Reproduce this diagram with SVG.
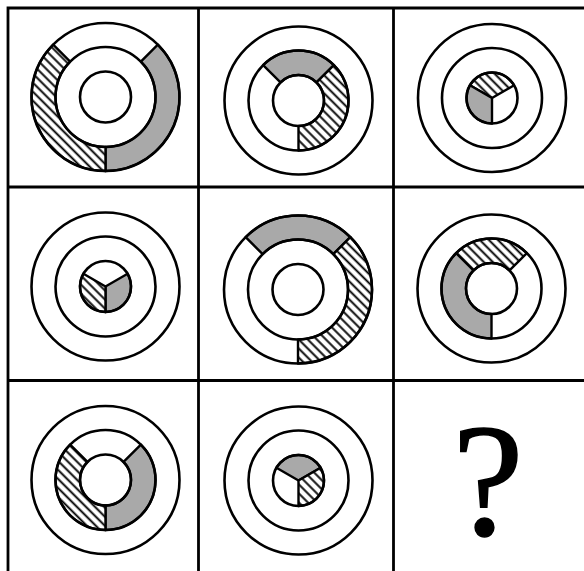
<svg xmlns="http://www.w3.org/2000/svg" width="584" height="571" viewBox="0 0 584 571">
<style>
.c{fill:none;stroke:#000;stroke-width:2.6}
.g{fill:#a9a9a9;stroke:#000;stroke-width:2.4;stroke-linejoin:round}
.h{fill:url(#hatch);stroke:#000;stroke-width:2.4;stroke-linejoin:round}
.grid{stroke:#000;stroke-width:2.8;fill:none}
</style>
<defs>
<pattern id="hatch" patternUnits="userSpaceOnUse" width="10" height="6.4" patternTransform="rotate(45)">
<rect width="10" height="6.4" fill="#fff"/>
<line x1="0" y1="3.2" x2="10" y2="3.2" stroke="#000" stroke-width="1.9"/>
</pattern>
</defs>
<rect width="584" height="571" fill="#fff"/>
<g id="grid">
<path class="grid" d="M8,571 V8 H584 M198.5,8 V571 M393.5,8 V571 M8,187 H584 M8,380.5 H584"/>
</g>
<g id="cell1">
<path class="g" d="M157.83,44.67 A74,74 0 0 1 105.5,171 L105.5,147 A50,50 0 0 0 140.86,61.64 Z"/>
<path class="h" d="M105.5,171 A74,74 0 0 1 53.17,44.67 L70.14,61.64 A50,50 0 0 0 105.5,147 Z"/>
<circle class="c" cx="105.5" cy="97" r="74"/><circle class="c" cx="105.5" cy="97" r="50"/><circle class="c" cx="105.5" cy="97" r="25.5"/>
</g>
<g id="cell2">
<path class="g" d="M263.14,65.14 A50,50 0 0 1 333.86,65.14 L316.53,82.47 A25.5,25.5 0 0 0 280.47,82.47 Z"/>
<path class="h" d="M333.86,65.14 A50,50 0 0 1 298.5,150.5 L298.5,126 A25.5,25.5 0 0 0 316.53,82.47 Z"/>
<circle class="c" cx="298.5" cy="100.5" r="74"/><circle class="c" cx="298.5" cy="100.5" r="50"/><circle class="c" cx="298.5" cy="100.5" r="25.5"/>
</g>
<g id="cell3">
<path class="h" d="M492,98 L469.92,85.25 A25.5,25.5 0 0 1 514.08,85.25 Z"/>
<path class="g" d="M492,98 L492,123.5 A25.5,25.5 0 0 1 469.92,85.25 Z"/>
<circle class="c" cx="492" cy="98" r="74"/><circle class="c" cx="492" cy="98" r="50"/><circle class="c" cx="492" cy="98" r="25.5"/>
</g>
<g id="cell4">
<path class="g" d="M105.5,286.5 L127.58,273.75 A25.5,25.5 0 0 1 105.5,312 Z"/>
<path class="h" d="M105.5,286.5 L105.5,312 A25.5,25.5 0 0 1 83.42,273.75 Z"/>
<circle class="c" cx="105.5" cy="286.5" r="74"/><circle class="c" cx="105.5" cy="286.5" r="50"/><circle class="c" cx="105.5" cy="286.5" r="25.5"/>
</g>
<g id="cell5">
<path class="g" d="M245.67,237.17 A74,74 0 0 1 350.33,237.17 L333.36,254.14 A50,50 0 0 0 262.64,254.14 Z"/>
<path class="h" d="M350.33,237.17 A74,74 0 0 1 298,363.5 L298,339.5 A50,50 0 0 0 333.36,254.14 Z"/>
<circle class="c" cx="298" cy="289.5" r="74"/><circle class="c" cx="298" cy="289.5" r="50"/><circle class="c" cx="298" cy="289.5" r="25.5"/>
</g>
<g id="cell6">
<path class="h" d="M456.14,253.14 A50,50 0 0 1 526.86,253.14 L509.53,270.47 A25.5,25.5 0 0 0 473.47,270.47 Z"/>
<path class="g" d="M491.5,338.5 A50,50 0 0 1 456.14,253.14 L473.47,270.47 A25.5,25.5 0 0 0 491.5,314 Z"/>
<circle class="c" cx="491.5" cy="288.5" r="74"/><circle class="c" cx="491.5" cy="288.5" r="50"/><circle class="c" cx="491.5" cy="288.5" r="25.5"/>
</g>
<g id="cell7">
<path class="g" d="M140.86,444.64 A50,50 0 0 1 105.5,530 L105.5,505.5 A25.5,25.5 0 0 0 123.53,461.97 Z"/>
<path class="h" d="M105.5,530 A50,50 0 0 1 70.14,444.64 L87.47,461.97 A25.5,25.5 0 0 0 105.5,505.5 Z"/>
<circle class="c" cx="105.5" cy="480" r="74"/><circle class="c" cx="105.5" cy="480" r="50"/><circle class="c" cx="105.5" cy="480" r="25.5"/>
</g>
<g id="cell8">
<path class="g" d="M298.5,480.5 L276.42,467.75 A25.5,25.5 0 0 1 320.58,467.75 Z"/>
<path class="h" d="M298.5,480.5 L320.58,467.75 A25.5,25.5 0 0 1 298.5,506 Z"/>
<circle class="c" cx="298.5" cy="480.5" r="74"/><circle class="c" cx="298.5" cy="480.5" r="50"/><circle class="c" cx="298.5" cy="480.5" r="25.5"/>
</g>
<g id="cell9">
<text x="488" y="535" font-family="Liberation Serif, serif" font-size="160" text-anchor="middle" fill="#000" stroke="#000" stroke-width="1.5">?</text>
</g>
</svg>
